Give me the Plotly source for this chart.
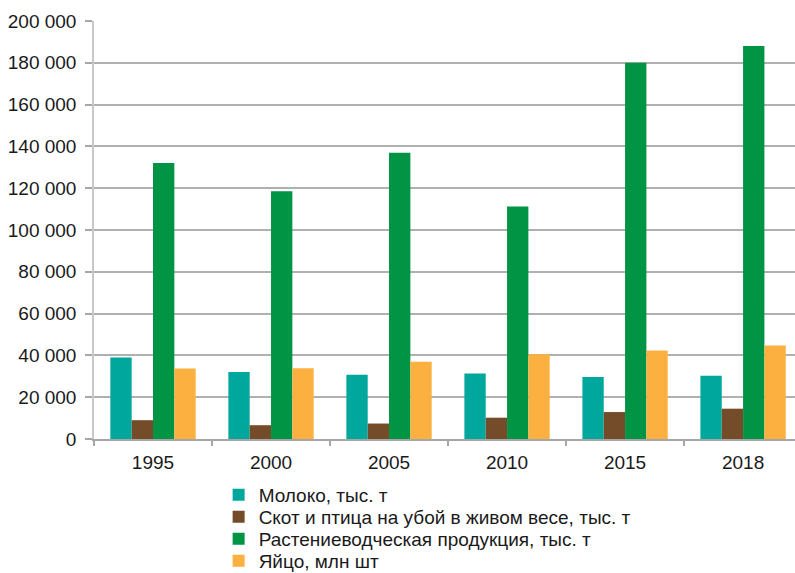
import plotly.graph_objects as go

years = ["1995", "2000", "2005", "2010", "2015", "2018"]

milk = [39000, 32000, 30800, 31300, 29700, 30300]
livestock = [9000, 6600, 7400, 10200, 12900, 14500]
crops = [132000, 118500, 137000, 111300, 180000, 188000]
eggs = [33700, 33900, 37000, 40500, 42400, 44700]

series_names = [
    "Молоко, тыс. т",
    "Скот и птица на убой в живом весе, тыс. т",
    "Растениеводческая продукция, тыс. т",
    "Яйцо, млн шт",
]
series_values = [milk, livestock, crops, eggs]
series_colors = ["#00a79d", "#754c29", "#009444", "#fbb040"]

# one single-entry legend per series so the rows can be stacked tightly
legend_ids = ["legend", "legend2", "legend3", "legend4"]
legend_row_y = [495, 517, 539, 561]

fig = go.Figure()
for name, vals, color, lid in zip(series_names, series_values, series_colors, legend_ids):
    fig.add_trace(go.Bar(
        x=years, y=vals, name=name, legend=lid,
        marker=dict(color=color, line=dict(width=0)),
    ))

font_family = "Liberation Sans, Arial, Helvetica, sans-serif"
H = 573

legend_layouts = {}
for lid, yc in zip(legend_ids, legend_row_y):
    legend_layouts[lid] = dict(
        x=0.275, y=1 - yc / H, xref="container", yref="container",
        xanchor="left", yanchor="middle",
        orientation="v",
        font=dict(size=19, color="#1a1a1a"),
        itemwidth=30, borderwidth=0,
        bgcolor="rgba(0,0,0,0)",
    )

fig.update_layout(
    width=795, height=H,
    margin=dict(l=94, r=0, t=21, b=134, autoexpand=False),
    paper_bgcolor="white", plot_bgcolor="white",
    barmode="group", bargap=0.277, bargroupgap=0,
    separators=", ",
    font=dict(family=font_family, size=19, color="#1a1a1a"),
    showlegend=True,
    xaxis=dict(
        type="category",
        range=[-0.5, 5.44],
        showline=True, linecolor="#a6a6a6", linewidth=1.5,
        ticks="outside", tickson="boundaries", ticklen=5,
        tickcolor="#a6a6a6", tickwidth=1.5,
        showgrid=False,
        tickfont=dict(size=19),
        ticklabelstandoff=5,
    ),
    yaxis=dict(
        range=[0, 200000], dtick=20000, tickformat=",d",
        showline=True, linecolor="#c8c8c8", linewidth=1.5,
        ticks="outside", ticklen=7, tickcolor="#a6a6a6", tickwidth=1.5,
        showgrid=True, gridcolor="#b0b0b0", gridwidth=1.5,
        zeroline=False,
        tickfont=dict(size=19),
        ticklabelstandoff=5,
    ),
    **legend_layouts,
)

fig.write_html("out.html")
